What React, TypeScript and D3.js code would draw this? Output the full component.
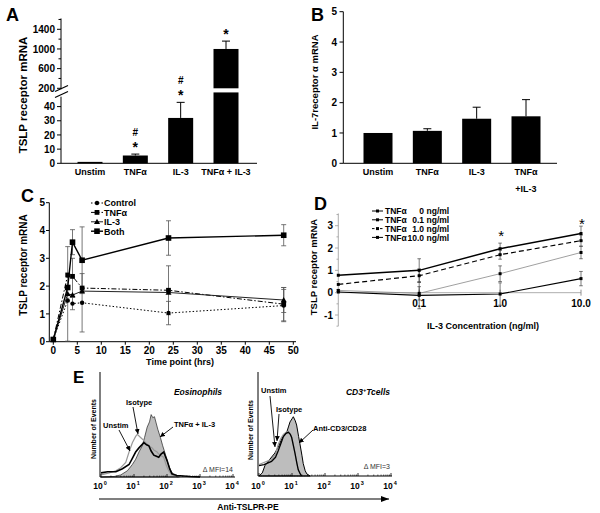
import React from "react";
import * as d3 from "d3";

const FONT = "'Liberation Sans', Arial, Helvetica, sans-serif";

// ---------- Panel A ----------
const catsA = ["Unstim", "TNFα", "IL-3", "TNFα + IL-3"];
const valsA = [1, 5.5, 32, 1000];
const errA = [0, 1, 11, 160];
const starA = ["", "*", "*", "*"];
const hashA = ["", "#", "#", ""];
const ticksALow = [0, 10, 20, 30, 40];
const ticksAHigh = [200, 600, 1000, 1400];
const minorAHigh = [400, 800, 1200, 1600];

// ---------- Panel B ----------
const catsB = [["Unstim"], ["TNFα"], ["IL-3"], ["TNFα", "+IL-3"]];
const valsB = [1.0, 1.07, 1.47, 1.55];
const errB = [0, 0.07, 0.38, 0.55];
const ticksB = [0, 1, 2, 3, 4, 5];

// ---------- Panel C ----------
const timesC = [0, 3, 4, 6, 24, 48];
const controlC = [0.08, 1.48, 1.37, 1.4, 1.03, 1.3];
const controlErrC = [0, 0, 0.22, 1.05, 0.42, 0.58];
const tnfC = [0.08, 2.4, 2.35, 1.93, 1.85, 1.35];
const tnfErrC = [0, 0, 0.65, 0, 0.88, 0.6];
const il3C = [0.08, 1.72, 1.68, 1.82, 1.77, 1.5];
const il3ErrC = [0, 1.7, 0, 0, 0, 0.45];
const bothC = [0.08, 1.95, 3.58, 2.93, 3.73, 3.83];
const bothErrC = [0, 0, 0.45, 1.2, 0.62, 0.38];
const legendC = ["Control", "TNFα", "IL-3", "Both"];
const ticksCx = [0, 5, 10, 15, 20, 25, 30, 35, 40, 45, 50];
const ticksCy = [0, 1, 2, 3, 4, 5];

// ---------- Panel D ----------
const il3D = [0.01, 0.1, 1, 10];
const tnf0D = [0.03, -0.12, -0.06, 0.63];
const tnf0ErrD = [0, 0.6, 0.5, 0.32];
const tnf01D = [0.1, -0.03, 0.85, 1.8];
const tnf01ErrD = [0.04, 0.3, 0.35, 0.28];
const tnf1D = [0.37, 0.76, 1.7, 2.33];
const tnf1ErrD = [0, 0.3, 0.2, 0.25];
const tnf10D = [0.78, 1.0, 1.97, 2.65];
const tnf10ErrD = [0, 0.52, 0.25, 0.33];
const legendDVal = ["0", "0.1", "1.0", "10.0"];
const ticksDx = [0.1, 1, 10];
const ticksDxLab = ["0.1", "1.0", "10.0"];
const ticksDy = [-1, 0, 1, 2, 3];
const starsD = [1, 10];

// ---------- Panel E (decade, % of max height) ----------
const eosStim: [number, number][] = [[0, 0], [0.4, 0.5], [0.6, 2], [0.8, 6], [0.95, 12], [1.05, 17], [1.15, 24], [1.25, 30], [1.32, 38], [1.4, 48], [1.47, 53], [1.52, 60], [1.57, 57], [1.62, 58], [1.67, 52], [1.72, 46], [1.8, 38], [1.87, 30], [1.95, 22], [2.02, 14], [2.1, 7], [2.18, 3], [2.25, 1], [2.35, 0]];
const eosUnstim: [number, number][] = [[0, 4], [0.2, 5], [0.45, 5], [0.65, 8], [0.85, 12], [0.95, 18], [1.05, 24], [1.15, 28], [1.3, 33], [1.38, 31], [1.45, 30], [1.52, 25], [1.6, 21], [1.68, 20], [1.75, 19], [1.82, 22], [1.9, 24], [1.95, 20], [2.0, 16], [2.08, 8], [2.15, 3], [2.3, 1.5], [2.5, 1], [2.7, 0.5], [3, 0]];
const eosIso: [number, number][] = [[0, 2], [0.25, 4], [0.45, 6], [0.6, 9], [0.75, 14], [0.85, 24], [0.95, 33], [1.05, 39], [1.1, 41], [1.2, 38], [1.3, 35], [1.35, 33], [1.45, 30], [1.55, 28], [1.6, 26], [1.7, 24], [1.75, 22], [1.85, 20], [1.9, 19], [1.97, 12], [2.05, 6], [2.15, 2], [2.25, 1], [2.4, 0]];
const tStim: [number, number][] = [[0, 0], [0.1, 3], [0.18, 10], [0.3, 15], [0.48, 22], [0.6, 29], [0.69, 36], [0.78, 40], [0.84, 42], [0.9, 48], [0.94, 52], [1.0, 55], [1.04, 57], [1.1, 53], [1.14, 49], [1.2, 38], [1.24, 31], [1.3, 20], [1.34, 12], [1.4, 5], [1.45, 2], [1.55, 0]];
const tUnstim: [number, number][] = [[0, 10], [0.15, 11], [0.38, 14], [0.5, 18], [0.58, 24], [0.66, 31], [0.74, 38], [0.82, 41], [0.89, 42], [0.95, 40], [0.99, 37], [1.05, 28], [1.09, 22], [1.15, 12], [1.19, 6], [1.25, 2], [1.29, 0]];
const tIso: [number, number][] = [[0, 11], [0.15, 13], [0.38, 16], [0.5, 21], [0.58, 30], [0.66, 36], [0.74, 40], [0.82, 42], [0.89, 43], [0.95, 40], [0.99, 37], [1.05, 29], [1.09, 22], [1.15, 12], [1.19, 6], [1.25, 2], [1.3, 0]];
const decadesE = [0, 1, 2, 3, 4];

function Marker({ type, x, y }: { type: string; x: number; y: number }) {
  if (type === "circle") return <circle cx={x} cy={y} r={2.2} fill="#000" />;
  if (type === "square") return <rect x={x - 2.4} y={y - 2.4} width={4.8} height={4.8} fill="#000" />;
  if (type === "bigsquare") return <rect x={x - 2.8} y={y - 2.8} width={5.6} height={5.6} fill="#000" />;
  if (type === "tri") return <path d={`M${x},${y - 3} L${x + 3},${y + 2.2} L${x - 3},${y + 2.2}Z`} fill="#000" />;
  return <rect x={x - 1.4} y={y - 1.4} width={2.8} height={2.8} fill="#000" />;
}

export default function App() {
  // ----- A scales -----
  const xA = d3.scalePoint<string>().domain(catsA).range([90, 226]);
  const yLowA = d3.scaleLinear().domain([0, 40]).range([163.3, 106.6]);
  const yHighA = d3.scaleLinear().domain([200, 1400]).range([88.3, 29.3]);
  const yA = (v: number) => (v <= 50 ? yLowA(v) : yHighA(v));
  const bwA = 25;

  // ----- B scales -----
  const xB = d3.scalePoint<number>().domain([0, 1, 2, 3]).range([378, 526]);
  const yB = d3.scaleLinear().domain([0, 5]).range([163.3, 11.7]);
  const bwB = 29;

  // ----- C scales -----
  const xC = d3.scaleLinear().domain([0, 50]).range([53.3, 293.3]);
  const yC = d3.scaleLinear().domain([0, 5]).range([341.7, 202.7]);
  const lineC = d3.line<number>().x((_, i) => xC(timesC[i])).y((d) => yC(d));
  const seriesC = [
    { v: controlC, e: controlErrC, dash: "1.5,2", w: 1, m: "circle", col: "#000" },
    { v: tnfC, e: tnfErrC, dash: "5,2,1.5,2", w: 1, m: "square", col: "#000" },
    { v: il3C, e: il3ErrC, dash: "", w: 1, m: "tri", col: "#222" },
    { v: bothC, e: bothErrC, dash: "", w: 1.4, m: "bigsquare", col: "#000" },
  ];

  // ----- D scales -----
  const xD = d3.scaleLog().domain([0.01, 10]).range([338.3, 581]);
  const yD = d3.scaleLinear().domain([-1, 3]).range([315, 225.7]);
  const lineD = d3.line<number>().x((_, i) => xD(il3D[i])).y((d) => yD(d));
  const seriesD = [
    { v: tnf0D, e: tnf0ErrD, dash: "", w: 1.2, col: "#000" },
    { v: tnf01D, e: tnf01ErrD, dash: "", w: 0.8, col: "#888" },
    { v: tnf1D, e: tnf1ErrD, dash: "5,3", w: 1.2, col: "#000" },
    { v: tnf10D, e: tnf10ErrD, dash: "", w: 1.5, col: "#000" },
  ];

  // ----- E scales -----
  const xE1 = d3.scaleLinear().domain([0, 4]).range([101, 233]);
  const yE1 = d3.scaleLinear().domain([0, 100]).range([477, 373]);
  const xE2 = d3.scaleLinear().domain([0, 4]).range([259, 391]);
  const yE2 = d3.scaleLinear().domain([0, 100]).range([476, 372]);
  const mkLine = (xs: any, ys: any) => d3.line<[number, number]>().x((d) => xs(d[0])).y((d) => ys(d[1]));
  const mkArea = (xs: any, ys: any) => d3.area<[number, number]>().x((d) => xs(d[0])).y0(ys(0)).y1((d) => ys(d[1]));
  const minorE: number[] = [];
  for (let k = 0; k < 4; k++) for (let m = 2; m <= 9; m++) minorE.push(k + Math.log10(m));

  const bold = { fontWeight: 700 as const };

  return (
    <svg width={600} height={513} style={{ position: "absolute", left: 0, top: 0, background: "#fff" }} fontFamily={FONT}>
      <defs>
        <marker id="arr" viewBox="0 0 6 6" refX="6" refY="3" markerWidth="5" markerHeight="5" orient="auto" markerUnits="userSpaceOnUse">
          <path d="M0,0 L6,3 L0,6 Z" fill="#000" />
        </marker>
        <marker id="arrBig" viewBox="0 0 8 6" refX="8" refY="3" markerWidth="8" markerHeight="6" orient="auto" markerUnits="userSpaceOnUse">
          <path d="M0,0 L8,3 L0,6 Z" fill="#000" />
        </marker>
        <clipPath id="clipC">
          <rect x={0} y={180} width={301} height={200} />
        </clipPath>
      </defs>
      <rect width={600} height={513} fill="#fff" />

      {/* ================= Panel A ================= */}
      <g>
        <text x={6} y={21} fontSize={18} {...bold}>A</text>
        <line x1={61} x2={61} y1={yLowA(0)} y2={yLowA(47)} stroke="#000" />
        <line x1={61} x2={61} y1={yHighA(180)} y2={yHighA(1620)} stroke="#000" />
        <line x1={55} y1={91.5} x2={68} y2={85.5} stroke="#000" strokeWidth={1.2} />
        <line x1={55} y1={97.5} x2={68} y2={91.5} stroke="#000" strokeWidth={1.2} />
        <line x1={61} x2={257} y1={yLowA(0)} y2={yLowA(0)} stroke="#000" />
        {ticksALow.map((t) => (
          <g key={"al" + t}>
            <line x1={57} x2={61} y1={yLowA(t)} y2={yLowA(t)} stroke="#000" />
            <text x={55} y={yLowA(t) + 3.6} fontSize={10} textAnchor="end" {...bold}>{t}</text>
          </g>
        ))}
        {ticksAHigh.map((t) => (
          <g key={"ah" + t}>
            <line x1={57} x2={61} y1={yHighA(t)} y2={yHighA(t)} stroke="#000" />
            <text x={55} y={yHighA(t) + 3.6} fontSize={10} textAnchor="end" {...bold}>{t}</text>
          </g>
        ))}
        {minorAHigh.map((t) => (
          <line key={"am" + t} x1={58.5} x2={61} y1={yHighA(t)} y2={yHighA(t)} stroke="#000" />
        ))}
        <text transform={`translate(27,95) rotate(-90)`} fontSize={11.5} textAnchor="middle" {...bold}>TSLP receptor mRNA</text>
        {catsA.map((c, i) => {
          const cx = xA(c)!;
          const v = valsA[i];
          const top = v + errA[i];
          const ty = yA(top);
          return (
            <g key={"ba" + i}>
              {v <= 50 ? (
                <rect x={cx - bwA / 2} y={yA(v)} width={bwA} height={yLowA(0) - yA(v)} fill="#000" />
              ) : (
                <>
                  <rect x={cx - bwA / 2} y={yLowA(50)} width={bwA} height={yLowA(0) - yLowA(50)} fill="#000" />
                  <rect x={cx - bwA / 2} y={yHighA(v)} width={bwA} height={yHighA(200) - yHighA(v)} fill="#000" />
                </>
              )}
              {errA[i] > 0 && (
                <g stroke="#000" strokeWidth={1}>
                  <line x1={cx} x2={cx} y1={yA(v)} y2={ty} />
                  <line x1={cx - 4} x2={cx + 4} y1={ty} y2={ty} />
                </g>
              )}
              {starA[i] && <text x={cx} y={ty - 2} fontSize={14} textAnchor="middle" {...bold}>{starA[i]}</text>}
              {hashA[i] && <text x={cx} y={ty - 18} fontSize={10} textAnchor="middle" {...bold}>{hashA[i]}</text>}
              <text x={cx} y={175} fontSize={9} textAnchor="middle" {...bold}>{c}</text>
            </g>
          );
        })}
      </g>

      {/* ================= Panel B ================= */}
      <g>
        <text x={311} y={21} fontSize={18} {...bold}>B</text>
        <line x1={343.3} x2={343.3} y1={yB(0)} y2={yB(5)} stroke="#000" />
        <line x1={343.3} x2={557} y1={yB(0)} y2={yB(0)} stroke="#000" />
        {ticksB.map((t) => (
          <g key={"bt" + t}>
            <line x1={339.5} x2={343.3} y1={yB(t)} y2={yB(t)} stroke="#000" />
            <text x={337} y={yB(t) + 3.6} fontSize={10} textAnchor="end" {...bold}>{t}</text>
          </g>
        ))}
        <text transform={`translate(317.5,82) rotate(-90)`} fontSize={9.5} textAnchor="middle" {...bold}>IL-7receptor α mRNA</text>
        {valsB.map((v, i) => {
          const cx = xB(i)!;
          const ty = yB(v + errB[i]);
          return (
            <g key={"bb" + i}>
              <rect x={cx - bwB / 2} y={yB(v)} width={bwB} height={yB(0) - yB(v)} fill="#000" />
              {errB[i] > 0 && (
                <g stroke="#000">
                  <line x1={cx} x2={cx} y1={yB(v)} y2={ty} />
                  <line x1={cx - 4} x2={cx + 4} y1={ty} y2={ty} />
                </g>
              )}
              {catsB[i].map((s, j) => (
                <text key={j} x={cx} y={175 + j * 16.5} fontSize={9} textAnchor="middle" {...bold}>{s}</text>
              ))}
            </g>
          );
        })}
      </g>

      {/* ================= Panel C ================= */}
      <g>
        <text x={21} y={202} fontSize={18} {...bold}>C</text>
        <line x1={49.3} x2={49.3} y1={yC(0)} y2={yC(5)} stroke="#000" />
        <line x1={49.3} x2={296} y1={yC(0)} y2={yC(0)} stroke="#000" />
        {ticksCy.map((t) => (
          <g key={"cy" + t}>
            <line x1={46} x2={49.3} y1={yC(t)} y2={yC(t)} stroke="#000" />
            <text x={45} y={yC(t) + 3.6} fontSize={10} textAnchor="end" {...bold}>{t}</text>
          </g>
        ))}
        <g clipPath="url(#clipC)">
          {ticksCx.map((t) => (
            <g key={"cx" + t}>
              <line x1={xC(t)} x2={xC(t)} y1={yC(0)} y2={yC(0) + 3} stroke="#000" />
              <text x={xC(t)} y={354} fontSize={10} textAnchor="middle" {...bold}>{t}</text>
            </g>
          ))}
        </g>
        <text x={180} y={365} fontSize={9} textAnchor="middle" {...bold}>Time point (hrs)</text>
        <text transform={`translate(27,265) rotate(-90)`} fontSize={10} textAnchor="middle" {...bold}>TSLP receptor mRNA</text>
        {seriesC.map((s, si) => (
          <g key={"cs" + si}>
            {s.v.map((v, i) =>
              s.e[i] > 0 ? (
                <g key={i} stroke="#555" strokeWidth={0.8}>
                  <line x1={xC(timesC[i])} x2={xC(timesC[i])} y1={yC(v - s.e[i])} y2={yC(v + s.e[i])} />
                  <line x1={xC(timesC[i]) - 2.5} x2={xC(timesC[i]) + 2.5} y1={yC(v + s.e[i])} y2={yC(v + s.e[i])} />
                  <line x1={xC(timesC[i]) - 2.5} x2={xC(timesC[i]) + 2.5} y1={yC(v - s.e[i])} y2={yC(v - s.e[i])} />
                </g>
              ) : null
            )}
          </g>
        ))}
        {seriesC.map((s, si) => (
          <g key={"cl" + si}>
            <path d={lineC(s.v)!} fill="none" stroke={s.col} strokeWidth={s.w} strokeDasharray={s.dash || undefined} />
            {s.v.map((v, i) => <Marker key={i} type={s.m} x={xC(timesC[i])} y={yC(v)} />)}
          </g>
        ))}
        {legendC.map((l, i) => {
          const y = 203 + i * 9.4;
          const s = seriesC[i];
          return (
            <g key={"lc" + i}>
              <line x1={91} x2={103} y1={y} y2={y} stroke={s.col} strokeWidth={s.w} strokeDasharray={s.dash || undefined} />
              <Marker type={s.m} x={97} y={y} />
              <text x={104} y={y + 3.4} fontSize={9} {...bold}>{l}</text>
            </g>
          );
        })}
      </g>

      {/* ================= Panel D ================= */}
      <g>
        <text x={314} y={210} fontSize={18} {...bold}>D</text>
        <line x1={338.3} x2={338.3} y1={yD(-1.5)} y2={yD(3.55)} stroke="#999" strokeWidth={0.8} />
        {d3.range(-1.5, 3.51, 0.5).map((t) => (
          <line key={"dm" + t} x1={Number.isInteger(t) ? 335 : 336.5} x2={338.3} y1={yD(t)} y2={yD(t)} stroke="#999" strokeWidth={0.8} />
        ))}
        <line x1={338.3} x2={581} y1={yD(0)} y2={yD(0)} stroke="#999" strokeWidth={0.8} />
        {ticksDy.map((t) => (
          <text key={"dy" + t} x={333} y={yD(t) + 3.6} fontSize={10} textAnchor="end" {...bold}>{t}</text>
        ))}
        {ticksDx.map((t, i) => (
          <g key={"dx" + t}>
            <line x1={xD(t)} x2={xD(t)} y1={yD(0) - 3} y2={yD(0) + 3} stroke="#777" strokeWidth={0.8} />
            <text x={xD(t)} y={306.5} fontSize={10} textAnchor="middle" {...bold}>{ticksDxLab[i]}</text>
          </g>
        ))}
        <text x={483} y={329} fontSize={9} textAnchor="middle" {...bold}>IL-3 Concentration (ng/ml)</text>
        <text transform={`translate(317,267) rotate(-90)`} fontSize={9.5} textAnchor="middle" {...bold}>TSLP receptor mRNA</text>
        {seriesD.map((s, si) => (
          <g key={"de" + si}>
            {s.v.map((v, i) =>
              s.e[i] > 0 ? (
                <g key={i} stroke="#444" strokeWidth={0.7}>
                  <line x1={xD(il3D[i])} x2={xD(il3D[i])} y1={yD(v - s.e[i])} y2={yD(v + s.e[i])} />
                  <line x1={xD(il3D[i]) - 1.8} x2={xD(il3D[i]) + 1.8} y1={yD(v + s.e[i])} y2={yD(v + s.e[i])} />
                  <line x1={xD(il3D[i]) - 1.8} x2={xD(il3D[i]) + 1.8} y1={yD(v - s.e[i])} y2={yD(v - s.e[i])} />
                </g>
              ) : null
            )}
          </g>
        ))}
        {seriesD.map((s, si) => (
          <g key={"dl" + si}>
            <path d={lineD(s.v)!} fill="none" stroke={s.col} strokeWidth={s.w} strokeDasharray={s.dash || undefined} />
            {s.v.map((v, i) => <rect key={i} x={xD(il3D[i]) - 1.5} y={yD(v) - 1.5} width={3} height={3} fill="#000" />)}
          </g>
        ))}
        {starsD.map((c) => (
          <text key={"ds" + c} x={xD(c) + 1} y={xD(c) > 560 ? 229 : 241} fontSize={15} textAnchor="middle">*</text>
        ))}
        {legendDVal.map((l, i) => {
          const y = 211 + i * 8.8;
          const s = seriesD[i];
          return (
            <g key={"ld" + i}>
              <line x1={372} x2={383} y1={y} y2={y} stroke={s.col === "#888" ? "#000" : s.col} strokeWidth={1} strokeDasharray={s.dash ? "2.5,1.5" : undefined} />
              <rect x={376} y={y - 1.5} width={3} height={3} fill="#000" />
              <text x={385} y={y + 3.2} fontSize={8.5} {...bold}>TNFα</text>
              <text x={424} y={y + 3.2} fontSize={8.5} textAnchor="end" {...bold}>{l}</text>
              <text x={426.5} y={y + 3.2} fontSize={8.5} {...bold}>ng/ml</text>
            </g>
          );
        })}
      </g>

      {/* ================= Panel E ================= */}
      <g>
        <text x={73} y={383} fontSize={17} {...bold}>E</text>
        {/* left histogram */}
        <path d={mkArea(xE1, yE1)(eosStim)!} fill="#bdbdbd" stroke="#222" strokeWidth={0.7} />
        <path d={mkLine(xE1, yE1)(eosIso)!} fill="none" stroke="#999" strokeWidth={1.2} />
        <path d={mkLine(xE1, yE1)(eosUnstim)!} fill="none" stroke="#000" strokeWidth={1.6} />
        <line x1={100} x2={100} y1={372} y2={477} stroke="#000" />
        <line x1={100} x2={235} y1={477} y2={477} stroke="#000" />
        {minorE.map((m) => <line key={"m1" + m} x1={xE1(m)} x2={xE1(m)} y1={477} y2={475.5} stroke="#000" strokeWidth={0.6} />)}
        {decadesE.map((d) => (
          <g key={"e1" + d}>
            <line x1={xE1(d)} x2={xE1(d)} y1={477} y2={474} stroke="#000" strokeWidth={0.8} />
            <text x={xE1(d) - 1} y={489} fontSize={8.5} textAnchor="middle" {...bold}>10<tspan fontSize={5.5} dx={1} dy={-4}>{d}</tspan></text>
          </g>
        ))}
        <text transform={`translate(95.5,429) rotate(-90)`} fontSize={7} textAnchor="middle" {...bold}>Number of Events</text>
        <text x={198} y={394.5} fontSize={8.5} textAnchor="middle" fontWeight={700} fontStyle="italic">Eosinophils</text>
        <text x={126} y={405} fontSize={7.5} {...bold}>Isotype</text>
        <text x={103} y={428} fontSize={7.5} {...bold}>Unstim</text>
        <text x={174} y={427} fontSize={7.5} {...bold}>TNFα + IL-3</text>
        <line x1={133} y1={407} x2={138} y2={434} stroke="#000" strokeWidth={0.9} markerEnd="url(#arr)" />
        <line x1={119} y1={430} x2={130} y2={451} stroke="#000" strokeWidth={0.9} markerEnd="url(#arr)" />
        <line x1={173} y1={427} x2={160} y2={437} stroke="#000" strokeWidth={0.9} markerEnd="url(#arr)" />
        <text x={233} y={472} fontSize={7} textAnchor="end" fill="#333">Δ MFI=14</text>

        {/* right histogram */}
        <path d={mkArea(xE2, yE2)(tStim)!} fill="#bdbdbd" stroke="#000" strokeWidth={1} />
        <path d={mkLine(xE2, yE2)(tIso)!} fill="none" stroke="#999" strokeWidth={1.2} />
        <path d={mkLine(xE2, yE2)(tUnstim)!} fill="none" stroke="#000" strokeWidth={1.3} />
        <line x1={258} x2={258} y1={372} y2={476} stroke="#000" />
        <line x1={258} x2={392} y1={476} y2={476} stroke="#000" />
        {minorE.map((m) => <line key={"m2" + m} x1={xE2(m)} x2={xE2(m)} y1={476} y2={474.5} stroke="#000" strokeWidth={0.6} />)}
        {decadesE.map((d) => (
          <g key={"e2" + d}>
            <line x1={xE2(d)} x2={xE2(d)} y1={476} y2={473} stroke="#000" strokeWidth={0.8} />
            <text x={xE2(d) - 1} y={489} fontSize={8.5} textAnchor="middle" {...bold}>10<tspan fontSize={5.5} dx={1} dy={-4}>{d}</tspan></text>
          </g>
        ))}
        <text transform={`translate(252.5,430) rotate(-90)`} fontSize={7} textAnchor="middle" {...bold}>Number of Events</text>
        <text x={368} y={394.5} fontSize={8.5} textAnchor="middle" fontWeight={700} fontStyle="italic">CD3<tspan fontSize={5.5} dy={-3}>+</tspan><tspan dy={3}>Tcells</tspan></text>
        <text x={261} y={393} fontSize={7.5} {...bold}>Unstim</text>
        <text x={276} y={412} fontSize={7.5} {...bold}>Isotype</text>
        <text x={313} y={431} fontSize={7.5} {...bold}>Anti-CD3/CD28</text>
        <line x1={270} y1={396} x2={275} y2={447} stroke="#000" strokeWidth={0.9} markerEnd="url(#arr)" />
        <line x1={279} y1={414} x2={277} y2={441} stroke="#000" strokeWidth={0.9} markerEnd="url(#arr)" />
        <line x1={313} y1={430} x2={299} y2={443} stroke="#000" strokeWidth={0.9} markerEnd="url(#arr)" />
        <text x={390} y={469} fontSize={7} textAnchor="end" fill="#333">Δ MFI=3</text>

        <line x1={99} x2={389} y1={499} y2={499} stroke="#000" strokeWidth={1.1} markerEnd="url(#arrBig)" />
        <text x={248} y={510} fontSize={8.5} textAnchor="middle" {...bold}>Anti-TSLPR-PE</text>
      </g>
    </svg>
  );
}
